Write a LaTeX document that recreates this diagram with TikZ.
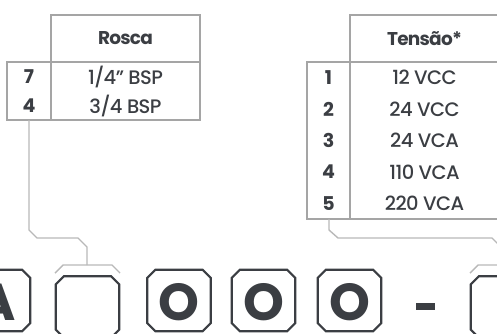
\documentclass[tikz,border=0pt]{standalone}
\usepackage{fontspec}
\setmainfont{Poppins}[UprightFont=* Medium, LetterSpace=-3]
\newfontfamily\boldfont{Poppins}[UprightFont=* Bold, LetterSpace=-4]
\newfontfamily\bigfont{Poppins}[UprightFont=* Bold, LetterSpace=0]
\definecolor{ink}{HTML}{3B3E43}
\definecolor{tabline}{HTML}{A5A5A5}
\definecolor{conline}{HTML}{B8B8B8}
\tikzset{
  tab/.style={draw=tabline, line width=1.1pt},
  con/.style={draw=conline, line width=1.4pt, line join=miter},
  cell/.style={text=ink, font=\fontsize{19.5}{21}\selectfont, inner sep=0pt},
  numcell/.style={cell, font=\fontsize{19}{21}\boldfont},
  head/.style={cell, font=\fontsize{18.5}{21}\boldfont},
  boxarea/.style={minimum width=63pt, minimum height=61pt, inner sep=0pt},
  boxline/.style={draw=ink, line width=2.2pt, line join=miter},
  big/.style={text=ink, inner sep=0pt, font=\fontsize{52}{54}\bigfont},
}
\newcommand{\chamferbox}[1]{%
  \draw[boxline] ([xshift=8pt]#1.north west) -- ([xshift=-8pt]#1.north east)
    -- ([yshift=-8pt]#1.north east) -- ([yshift=8pt]#1.south east)
    -- ([xshift=-8pt]#1.south east) -- ([xshift=8pt]#1.south west)
    -- ([yshift=8pt]#1.south west) -- ([yshift=-8pt]#1.north west) -- cycle;}
\begin{document}
\begin{tikzpicture}[x=1pt,y=-1pt]
\useasboundingbox (0,0) rectangle (497,333);
\clip (0,0) rectangle (497,333);
% left table
\draw[tab] (51,62) -- (51,15) -- (200,15) -- (200,120) -- (7,120) -- (7,62) -- (200,62);
\draw[tab] (51,62) -- (51,120);
\node[head] (rh) at (125.5,38.5) {Rosca};
\node[numcell] (r7) at (29,76.5) {7};
\node[cell] (r7t) at (125.5,76.5) {1/4" BSP};
\node[numcell] (r4) at (29,105.5) {4};
\node[cell] (r4t) at (125.5,105.5) {3/4 BSP};
% right table
\draw[tab] (350,62) -- (350,15) -- (499,15) -- (499,219) -- (307,219) -- (307,62) -- (499,62);
\draw[tab] (350,62) -- (350,219);
\node[head] (th) at (424.5,38.5) {Tensão*};
\foreach \n/\t/\y in {1/12 VCC/77.7, 2/24 VCC/109.1, 3/24 VCA/140.5, 4/110 VCA/171.9, 5/220 VCA/203.3}{
  \node[numcell] (n\n) at (328.5,\y) {\n};
  \node[cell] (v\n) at (424.5,\y) {\t};
}
% boxes
\node[boxarea] (bA) at (-1.5,300.5) {};
\node[boxarea] (b2) at (87.5,307) {};
\node[boxarea] (bO1) at (179,300.5) {};
\node[boxarea] (bO2) at (263.5,300.5) {};
\node[boxarea] (bO3) at (349.5,300.5) {};
\node[boxarea] (b6) at (502.5,307) {};
\foreach \b in {bA,b2,bO1,bO2,bO3,b6}{\chamferbox{\b}}
\node[big] (tA) at (-3,302.5) {A};
\node[big] (tO1) at (179,302.5) {O};
\node[big] (tO2) at (263.5,302.5) {O};
\node[big] (tO3) at (349.5,302.5) {O};
\node[fill=ink, minimum width=19pt, minimum height=7pt, inner sep=0pt] (dash) at (425.5,306.5) {};
% connectors
\coordinate (lt) at (29,120);
\coordinate (lb) at (87,265);
\draw[con] (lt) -- (29,230) -- (37,238) -- (78,238) -- (87,247) -- (lb);
\draw[con] (55,273) -- (63,265) -- (112,265) -- (120,273);
\coordinate (rt) at (329,219);
\coordinate (rb) at (501,265);
\draw[con] (rt) -- (329,230) -- (338,238) -- (492,238) -- (501,247) -- (rb);
\draw[con] (470,273) -- (478,265) -- (527,265) -- (535,273);
\end{tikzpicture}
\end{document}
